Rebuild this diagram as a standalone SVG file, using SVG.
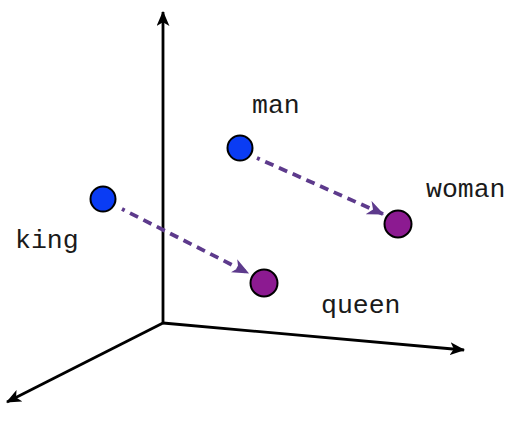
<svg xmlns="http://www.w3.org/2000/svg" width="515" height="422" viewBox="0 0 515 422">
<style>
.axis{stroke:#000;stroke-width:2.8;fill:none}
.vec{stroke:#5d3a8c;stroke-width:3.8;fill:none;stroke-dasharray:9 6}
.blue{fill:#0a3cf4;stroke:#000;stroke-width:2}
.purple{fill:#8c1a91;stroke:#000;stroke-width:2}
.lbl{font-family:"Liberation Mono","Courier New",monospace;font-size:26.5px;fill:#1a1a1a}
</style>
<defs>
<marker id="ah" viewBox="0 0 14 12" refX="13" refY="6" markerWidth="15" markerHeight="13" markerUnits="userSpaceOnUse" orient="auto">
<path d="M0,0 L14,6 L0,12 L3.5,6 Z" fill="#000"/>
</marker>
<marker id="vh" viewBox="0 0 14 12" refX="13" refY="6" markerWidth="17" markerHeight="15" markerUnits="userSpaceOnUse" orient="auto">
<path d="M0,0 L14,6 L0,12 L4,6 Z" fill="#5d3a8c"/>
</marker>
</defs>
<g id="axes">
<line class="axis" x1="163" y1="323" x2="163" y2="12" marker-end="url(#ah)"/>
<line class="axis" x1="163" y1="323" x2="464" y2="350" marker-end="url(#ah)"/>
<line class="axis" x1="163" y1="323" x2="7" y2="402" marker-end="url(#ah)"/>
</g>
<g id="connectors">
<line class="vec" x1="122" y1="209" x2="248" y2="273" stroke-dashoffset="6" marker-end="url(#vh)"/>
<line class="vec" x1="257" y1="158" x2="383" y2="214" stroke-dashoffset="6" marker-end="url(#vh)"/>
</g>
<g id="king"><circle class="blue" cx="103" cy="199" r="12.5"/><text class="lbl" x="15" y="248">king</text></g>
<g id="man"><circle class="blue" cx="240" cy="148" r="12.5"/><text class="lbl" x="252" y="113">man</text></g>
<g id="woman"><circle class="purple" cx="398" cy="224" r="13.5"/><text class="lbl" x="426" y="197">woman</text></g>
<g id="queen"><circle class="purple" cx="264" cy="283" r="13.5"/><text class="lbl" x="321" y="313">queen</text></g>
</svg>
